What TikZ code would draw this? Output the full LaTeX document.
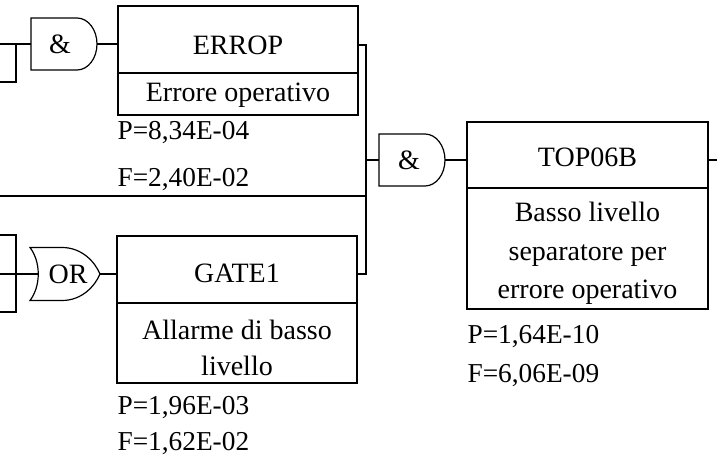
\documentclass[tikz,border=0pt]{standalone}
\usepackage{fontspec}
\setmainfont{Liberation Serif}
\begin{document}
\begin{tikzpicture}[x=0.75pt, y=-0.75pt, line width=0.9pt,
  part/.style={draw, rectangle, inner sep=0pt, minimum width=180pt},
  txt/.style={inner sep=0pt, anchor=mid, font=\fontsize{21}{25}\selectfont},
  val/.style={inner sep=0pt, anchor=mid west, font=\fontsize{20.5}{24}\selectfont},
  andgate/.pic={\draw (-33,-26) -- (13,-26) .. controls (24,-26) and (33,-14.4) .. (33,0)
     .. controls (33,14.4) and (24,26) .. (13,26) -- (-33,26) -- cycle;},
  orgate/.pic={\draw (-35,-26.5) -- (-3,-26.5) .. controls (17,-26.5) and (30,-12) .. (35,0)
     .. controls (30,12) and (17,26.5) .. (-3,26.5) -- (-35,26.5)
     .. controls (-24,12) and (-24,-12) .. (-35,-26.5) -- cycle;}
]
\useasboundingbox (0,0) rectangle (719,456);

% ---- boxes
\node[part, minimum height=50.25pt] (erropT) at (238,39.5) {};
\node[part, minimum height=31.5pt]  (erropB) at (238,94) {};
\node[part, minimum height=50.25pt] (gateT) at (237,269.5) {};
\node[part, minimum height=60pt]    (gateB) at (237,343) {};
\node[part, minimum width=180.75pt, minimum height=49.5pt] (topT) at (587.5,155) {};
\node[part, minimum width=180.75pt, minimum height=90.75pt] (topB) at (587.5,248.5) {};

% ---- box texts
\node[txt] (t1) at (238,51) {ERROP};
\node[txt] (t2) at (238,98) {Errore operativo};
\node[val] (v1) at (117,136) {P=8,34E-04};
\node[val] (v2) at (117,183) {F=2,40E-02};

\node[txt] (t3) at (237,279) {GATE1};
\node[txt] (t4) at (237,336) {Allarme di basso};
\node[txt] (t5) at (237,372) {livello};
\node[val] (v3) at (117,411) {P=1,96E-03};
\node[val] (v4) at (117,447) {F=1,62E-02};

\node[txt] (t6) at (587.5,163) {TOP06B};
\node[txt] (t7) at (587.5,218) {Basso livello};
\node[txt] (t8) at (587.5,257) {separatore per};
\node[txt] (t9) at (587.5,295) {errore operativo};
\node[val] (v5) at (467,340) {P=1,64E-10};
\node[val] (v6) at (467,379) {F=6,06E-09};

% ---- gates
\pic at (64,44) {andgate};
\node[txt] (g1) at (60,50) {\&};
\coordinate (g1in) at (31,44);
\coordinate (g1out) at (97,44);

\pic at (412,160) {andgate};
\node[txt] (g2) at (409,166) {\&};
\coordinate (g2in) at (379,160);
\coordinate (g2out) at (445,160);

\pic at (65,274) {orgate};
\node[txt] (g3) at (68,280) {OR};
\coordinate (g3in) at (38,274);
\coordinate (g3out) at (100,274);

% ---- connectors
\coordinate (inA) at (0,44);
\coordinate (inAb) at (0,82);
\coordinate (brA) at (16,44);
\draw (inA) -- (g1in);
\draw (brA) -- (brA |- inAb) -- (inAb);
\draw (g1out) -- (g1out -| erropT.west);

\coordinate (busTop) at (366,45);
\coordinate (busMid) at (366,160);
\coordinate (busBot) at (366,274);
\draw (erropT.east |- busTop) -- (busTop) -- (busBot) -- (gateT.east |- busBot);
\draw (busMid) -- (g2in);
\draw (g2out) -- (g2out -| topT.west);
\coordinate (outTop) at (717,160);
\draw (topT.east |- outTop) -- (outTop);

\coordinate (lineL) at (0,196);
\draw (lineL) -- (lineL -| busTop);

\coordinate (inB) at (0,274);
\draw (inB) -- (g3in);
\coordinate (fTop) at (0,235);
\coordinate (fBot) at (0,312);
\draw (fTop) -- (16,235) -- (16,312) -- (fBot);
\draw (g3out) -- (g3out -| gateT.west);
\end{tikzpicture}
\end{document}
